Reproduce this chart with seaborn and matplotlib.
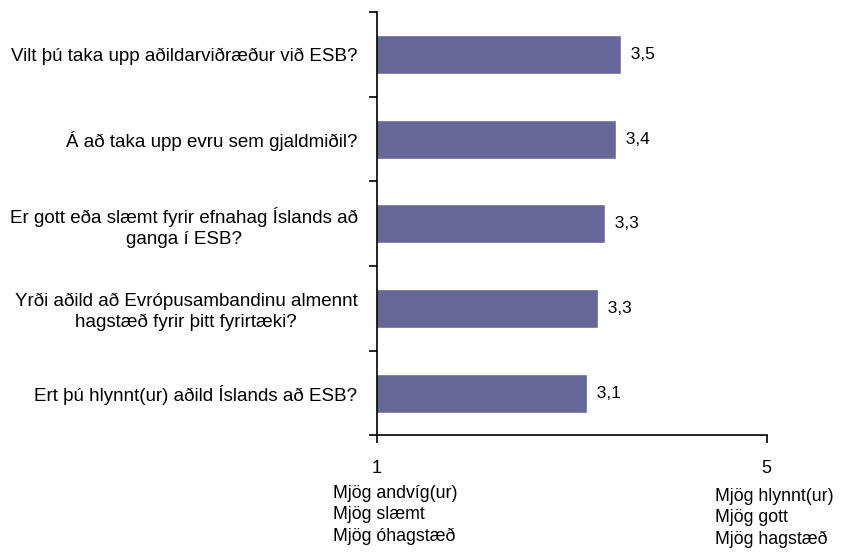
import matplotlib
matplotlib.use("Agg")
import matplotlib.pyplot as plt
import matplotlib.transforms as mtransforms
import seaborn as sns
import pandas as pd

# Survey questions and mean scores (scale 1-5)
questions = [
    "Vilt þú taka upp aðildarviðræður við ESB?",
    "Á að taka upp evru sem gjaldmiðil?",
    "Er gott eða slæmt fyrir efnahag Íslands að\nganga í ESB?",
    "Yrði aðild að Evrópusambandinu almennt\nhagstæð fyrir þitt fyrirtæki?",
    "Ert þú hlynnt(ur) aðild Íslands að ESB?",
]
scores = [3.51, 3.45, 3.34, 3.27, 3.16]
score_labels = ["3,5", "3,4", "3,3", "3,3", "3,1"]
x_ticks = [1, 5]
low_labels = ["Mjög andvíg(ur)", "Mjög slæmt", "Mjög óhagstæð"]
high_labels = ["Mjög hlynnt(ur)", "Mjög gott", "Mjög hagstæð"]

sns.set_style("white")
plt.rcParams["font.family"] = ["Liberation Sans", "DejaVu Sans"]
plt.rcParams["text.color"] = "black"
plt.rcParams["xtick.color"] = "black"
plt.rcParams["ytick.color"] = "black"

df = pd.DataFrame({"question": questions, "score": scores})

fig = plt.figure(figsize=(8.49, 5.54), dpi=100)
ax = fig.add_axes([0.444, 0.214, 0.459, 0.764])

sns.barplot(data=df, x="score", y="question", orient="h", color="#666699",
            saturation=1, width=0.46, ax=ax)

ax.set_xlim(1, 5)
ax.set_ylim(len(questions) - 0.5, -0.5)
ax.set_xlabel("")
ax.set_ylabel("")

for s in ["top", "right"]:
    ax.spines[s].set_visible(False)
for s in ["left", "bottom"]:
    ax.spines[s].set_color("black")
    ax.spines[s].set_linewidth(1.2)

# category labels at centres, tick marks at category boundaries
ax.set_yticks(range(len(questions)))
ax.set_yticklabels(questions, fontsize=13.5, linespacing=1.25, color="black")
for lbl in ax.get_yticklabels():
    lbl.set_multialignment("center")
ax.tick_params(axis="y", which="major", length=0, pad=14)
ax.set_yticks([i - 0.5 for i in range(len(questions) + 1)], minor=True)
ax.tick_params(axis="y", which="minor", length=6, width=1.2, color="black",
               direction="out", left=True)

ax.set_xticks(x_ticks)
ax.set_xticklabels([str(t) for t in x_ticks], fontsize=13, color="black")
ax.tick_params(axis="x", length=6, width=1.2, color="black", direction="out",
               bottom=True, pad=12)

for i, (v, lab) in enumerate(zip(scores, score_labels)):
    ax.text(v, i, "  " + lab, va="center", ha="left", fontsize=12.5,
            color="black")

# end-point descriptions under the axis
trans = mtransforms.blended_transform_factory(ax.transData, fig.transFigure)
ax.text(0.548, 1 - 515 / 554, "\n".join(low_labels), transform=trans,
        ha="left", va="center", fontsize=12.8, linespacing=1.35,
        color="black")
ax.text(4.47, 1 - 518 / 554, "\n".join(high_labels), transform=trans,
        ha="left", va="center", fontsize=12.8, linespacing=1.35,
        color="black")

fig.savefig("out.png", dpi=100)
